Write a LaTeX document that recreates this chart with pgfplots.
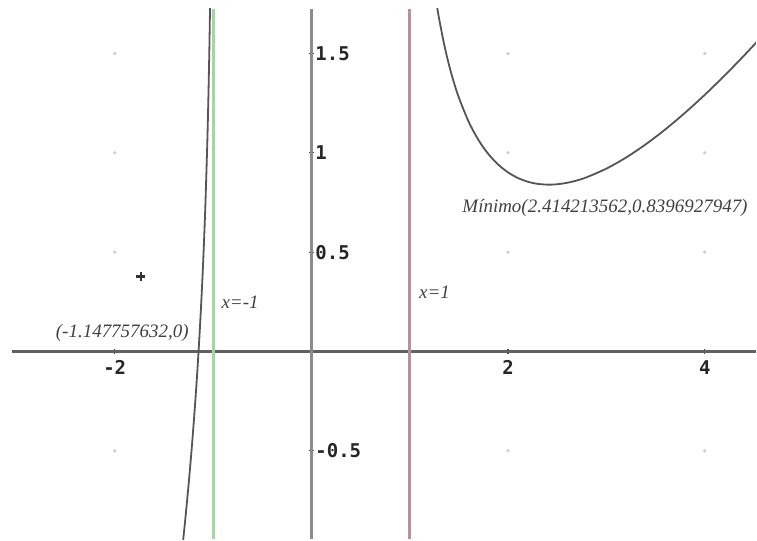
\documentclass[border=0pt]{standalone}
\usepackage{pgfplots}
\pgfplotsset{compat=1.18}
\usepackage{fontspec}
\setmainfont{Liberation Serif}
\newfontfamily\tickfont{DejaVu Sans Mono}

\definecolor{curvegray}{HTML}{555555}
\definecolor{asymgreen}{HTML}{A2D6A2}
\definecolor{asymrose}{HTML}{BA8E9D}
\definecolor{dotgray}{HTML}{CFCFCF}

\begin{document}
\begin{tikzpicture}
\begin{axis}[
  width=745pt, height=531pt, scale only axis,
  xmin=-3.045, xmax=4.52, ymin=-0.945, ymax=1.724,
  axis lines=middle,
  axis line style={-},
  x axis line style={color=black!62, line width=2.2pt},
  y axis line style={color=black!45, line width=2.8pt},
  xtick={-2,2,4}, xticklabels={-2,2,4},
  ytick={-0.5,0.5,1,1.5}, yticklabels={-0.5,0.5,1,1.5},
  tick style={black!75, line width=1.2pt},
  major tick length=5pt,
  xticklabel style={font=\tickfont\bfseries\fontsize{19}{19}\selectfont, anchor=north, yshift=-3pt, text=black!85},
  yticklabel style={font=\tickfont\bfseries\fontsize{19}{19}\selectfont, anchor=west, xshift=3pt, text=black!85},
  clip=true,
]
% faint grid points
\addplot[only marks, mark=*, mark size=1.5pt, dotgray] coordinates {
  (-2,-0.5) (-2,0.5) (-2,1) (-2,1.5)
  (2,-0.5) (2,0.5) (2,1) (2,1.5)
  (4,-0.5) (4,0.5) (4,1) (4,1.5)
};
% vertical asymptotes
\addplot[asymgreen, line width=3pt] coordinates {(-1,-0.945) (-1,1.724)};
\addplot[asymrose, line width=3pt] coordinates {(1,-0.945) (1,1.724)};
% f(x) = x - ln(x^2 - 1), left branch
\addplot[curvegray, line width=1.8pt, smooth] coordinates {
  (-1.31,-0.9761) (-1.30,-0.9289) (-1.28,-0.8312) (-1.26,-0.7283)
  (-1.24,-0.6194) (-1.22,-0.5034) (-1.20,-0.3790) (-1.18,-0.2445)
  (-1.16,-0.0975) (-1.14,0.0653) (-1.12,0.2489) (-1.10,0.4607)
  (-1.08,0.7134) (-1.06,1.0307) (-1.05,1.2279) (-1.04,1.4659)
  (-1.035,1.6069) (-1.03,1.7685) (-1.025,1.9583)
};
% right branch
\addplot[curvegray, line width=1.8pt, smooth] coordinates {
  (1.24,1.8607) (1.26,1.7917) (1.28,1.7288) (1.30,1.6711)
  (1.35,1.5454) (1.40,1.4408) (1.45,1.3524) (1.50,1.2769)
  (1.60,1.1553) (1.70,1.0634) (1.80,0.9935) (1.90,0.9406)
  (2.00,0.9014) (2.10,0.8733) (2.20,0.8545) (2.30,0.8437)
  (2.414,0.8397) (2.50,0.8418) (2.60,0.8491) (2.70,0.8610)
  (2.80,0.8772) (3.00,0.9206) (3.20,0.9765) (3.40,1.0429)
  (3.60,1.1184) (3.80,1.2018) (4.00,1.2920) (4.20,1.3882)
  (4.40,1.4898) (4.60,1.5963)
};
% free point
\addplot[only marks, mark=+, mark size=4.5pt, black!80, line width=2.2pt] coordinates {(-1.736,0.377)};

\begin{scope}[font=\itshape\fontsize{19}{19}\selectfont, text=black!75]
\node[anchor=west] at (axis cs:1.50,0.724) {Mínimo(2.414213562,0.8396927947)};
\node[anchor=east] at (axis cs:-1.212,0.095) {(-1.147757632,0)};
\node[anchor=west] at (axis cs:-0.95,0.246) {x=-1};
\node[anchor=west] at (axis cs:1.06,0.296) {x=1};
\end{scope}
\end{axis}
\path (current axis.south west) ++(-12pt,0pt);
\path (current axis.north east) ++(0pt,9pt);
\end{tikzpicture}
\end{document}
